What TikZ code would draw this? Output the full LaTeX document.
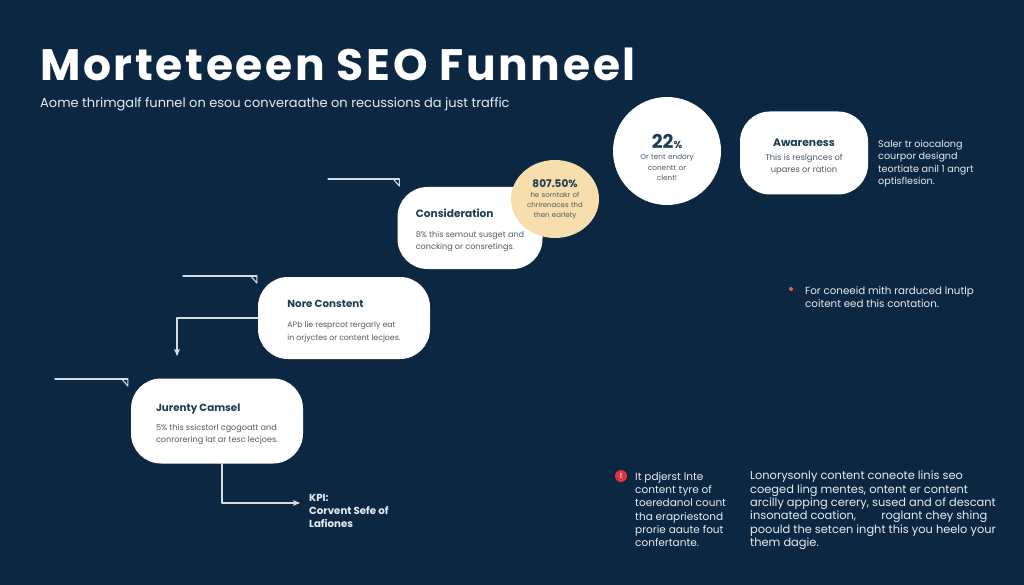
\documentclass[tikz,border=0pt]{standalone}
\usepackage{fontspec}
\setmainfont{Poppins}
\usepackage{tikz}
\usetikzlibrary{arrows,shapes.geometric,positioning}
\definecolor{navy}{HTML}{0C2742}
\definecolor{stagetitle}{HTML}{1C3D52}
\definecolor{stagebody}{HTML}{505A64}
\definecolor{wire}{HTML}{D4DCE4}
\definecolor{pale}{HTML}{E8EDF2}
\definecolor{peach}{HTML}{F7DEAC}
\definecolor{alert}{HTML}{E0333F}
\newcommand{\fsize}[2]{\fontsize{#1}{#2}\selectfont}

\begin{document}
\begin{tikzpicture}[line cap=round,line join=round,>=angle 45,x=1pt,y=-1pt,
  stage/.style={fill=white,rounded corners=30pt,minimum height=82pt,inner sep=0pt,align=left,text=stagebody},
  wireline/.style={draw=wire,line width=1.1pt},
  lighttext/.style={anchor=north west,inner sep=0pt,text=pale,align=left}]
\fill[navy] (0,0) rectangle (1024,585);
\useasboundingbox (0,0) rectangle (1024,585);

\node[anchor=base west,inner sep=0pt,text=white,font=\fsize{44}{50}\bfseries\addfontfeature{LetterSpace=6}] (title) at (40,81) {Morteteeen SEO Funneel};
\node[anchor=base west,inner sep=0pt,text=pale,font=\fsize{13}{15}] (subtitle) at (40,108) {Aome thrimgalf funnel on esou converaathe on recussions da just traffic};

\node[circle,fill=white,minimum size=108pt,inner sep=0pt,text width=90pt,align=center,text=stagebody,font=\fsize{7.3}{10.5}] (share) at (667,151)
  {\rule{0pt}{27pt}{\color{stagetitle}\bfseries\fsize{19}{20}22\fsize{10}{12}\%}\\[1pt]Or tent endory\\ conentt or\\ clent!};
\node[stage,minimum width=128pt,align=center,minimum height=83pt,font=\fsize{8.3}{11.5}] (aware) at (804,153)
  {\rule{0pt}{15pt}{\color{stagetitle}\bfseries\fsize{10.8}{13}Awareness}\\[3pt]This is reslgnces of\\ upares or ration};
\node[lighttext,font=\fsize{9.6}{12.4}] (awaretext) at (878,140) {Saler tr oiocalong\\ courpor designd\\ teortiate anil 1 angrt\\ optisflesion.};

\node[stage,minimum width=145pt,font=\fsize{8.1}{12.5}] (cons) at (470,228)
  {\rule{0pt}{14pt}{\color{stagetitle}\bfseries\fsize{10.6}{13}Consideration}\\[7pt]8\% this semout susget and\\ concking or consretings.};
\node[ellipse,fill=peach,minimum width=88pt,minimum height=78pt,inner sep=0pt,text width=58pt,align=center,text=stagebody,font=\fsize{7}{10}] (rate) at (555,199)
  {{\color{stagetitle}\bfseries\fsize{10.5}{12}807.50\%}\\he sorntakr of\\ chrirenaces thd\\ then earlety};

\node[stage,minimum width=172pt,font=\fsize{7.8}{12.8}] (nore) at (344,318)
  {\rule{0pt}{14pt}{\color{stagetitle}\bfseries\fsize{10.3}{13}Nore Constent}\\[7pt]APb lie resprcot rergarly eat\\ in orjyctes or content lecjoes.};
\node[stage,minimum width=172pt,minimum height=85pt,font=\fsize{8.1}{12.2}] (jur) at (217,421)
  {\rule{0pt}{14pt}{\color{stagetitle}\bfseries\fsize{10.3}{13}Jurenty Camsel}\\[7pt]5\% this ssicstorl cgogoatt and\\ conrorering lat ar tesc lecjoes.};

\node[lighttext,font=\fsize{10.2}{13}\bfseries] (kpi) at (309,494) {KPI:\\ Corvent Sefe of\\ Lafiones};

\node[circle,fill=alert!80,minimum size=4pt,inner sep=0pt] (dot) at (791,289) {};
\node[lighttext,font=\fsize{10.3}{13}] (note) at (805,286) {For coneeid mith rarduced lnutlp\\ coitent eed this contation.};

\node[circle,fill=alert,minimum size=12pt,inner sep=0pt,text=white,font=\fsize{7}{7}\bfseries] (alarm) at (621,476) {!};
\node[lighttext,font=\fsize{10.5}{13.3}] (alarmtext) at (635,472) {It pdjerst lnte\\ content tyre of\\ toeredanol count\\ tha erapriestond\\ prorie aaute fout\\ confertante.};
\node[lighttext,font=\fsize{11.4}{13.3}] (longtext) at (750,471) {Lonorysonly content coneote linis seo\\ coeged ling mentes, ontent er content\\ arcilly apping cerery, sused and of descant\\ insonated coation,\hspace{22pt} roglant chey shing\\ poould the setcen inght this you heelo your\\ them dagie.};

\coordinate (s1) at (328,179);
\coordinate (t1) at ([xshift=2pt,yshift=8pt]cons.north west);
\draw[wireline] (s1) -- (s1 -| t1);
\draw[wireline] ([xshift=-6pt]s1 -| t1) -- (s1 -| t1) -- ([yshift=-7pt]s1 -| t1) -- cycle;
\coordinate (s2) at (183,276);
\coordinate (t2) at ([xshift=-1pt,yshift=1pt]nore.north west);
\draw[wireline] (s2) -- (s2 -| t2);
\draw[wireline] ([xshift=-6pt]s2 -| t2) -- (s2 -| t2) -- ([yshift=-7pt]s2 -| t2) -- cycle;
\coordinate (s3) at (55,379);
\coordinate (t3) at ([xshift=-3pt]jur.north west);
\draw[wireline] (s3) -- (s3 -| t3);
\draw[wireline] ([xshift=-6pt]s3 -| t3) -- (s3 -| t3) -- ([yshift=-7pt]s3 -| t3) -- cycle;

\coordinate (drop) at (177,356);
\draw[wireline,->] (nore.west) -| (drop);
\draw[wireline,->] ([xshift=5pt]jur.south) |- ([xshift=-9pt,yshift=-9pt]kpi.north west);
\end{tikzpicture}
\end{document}
